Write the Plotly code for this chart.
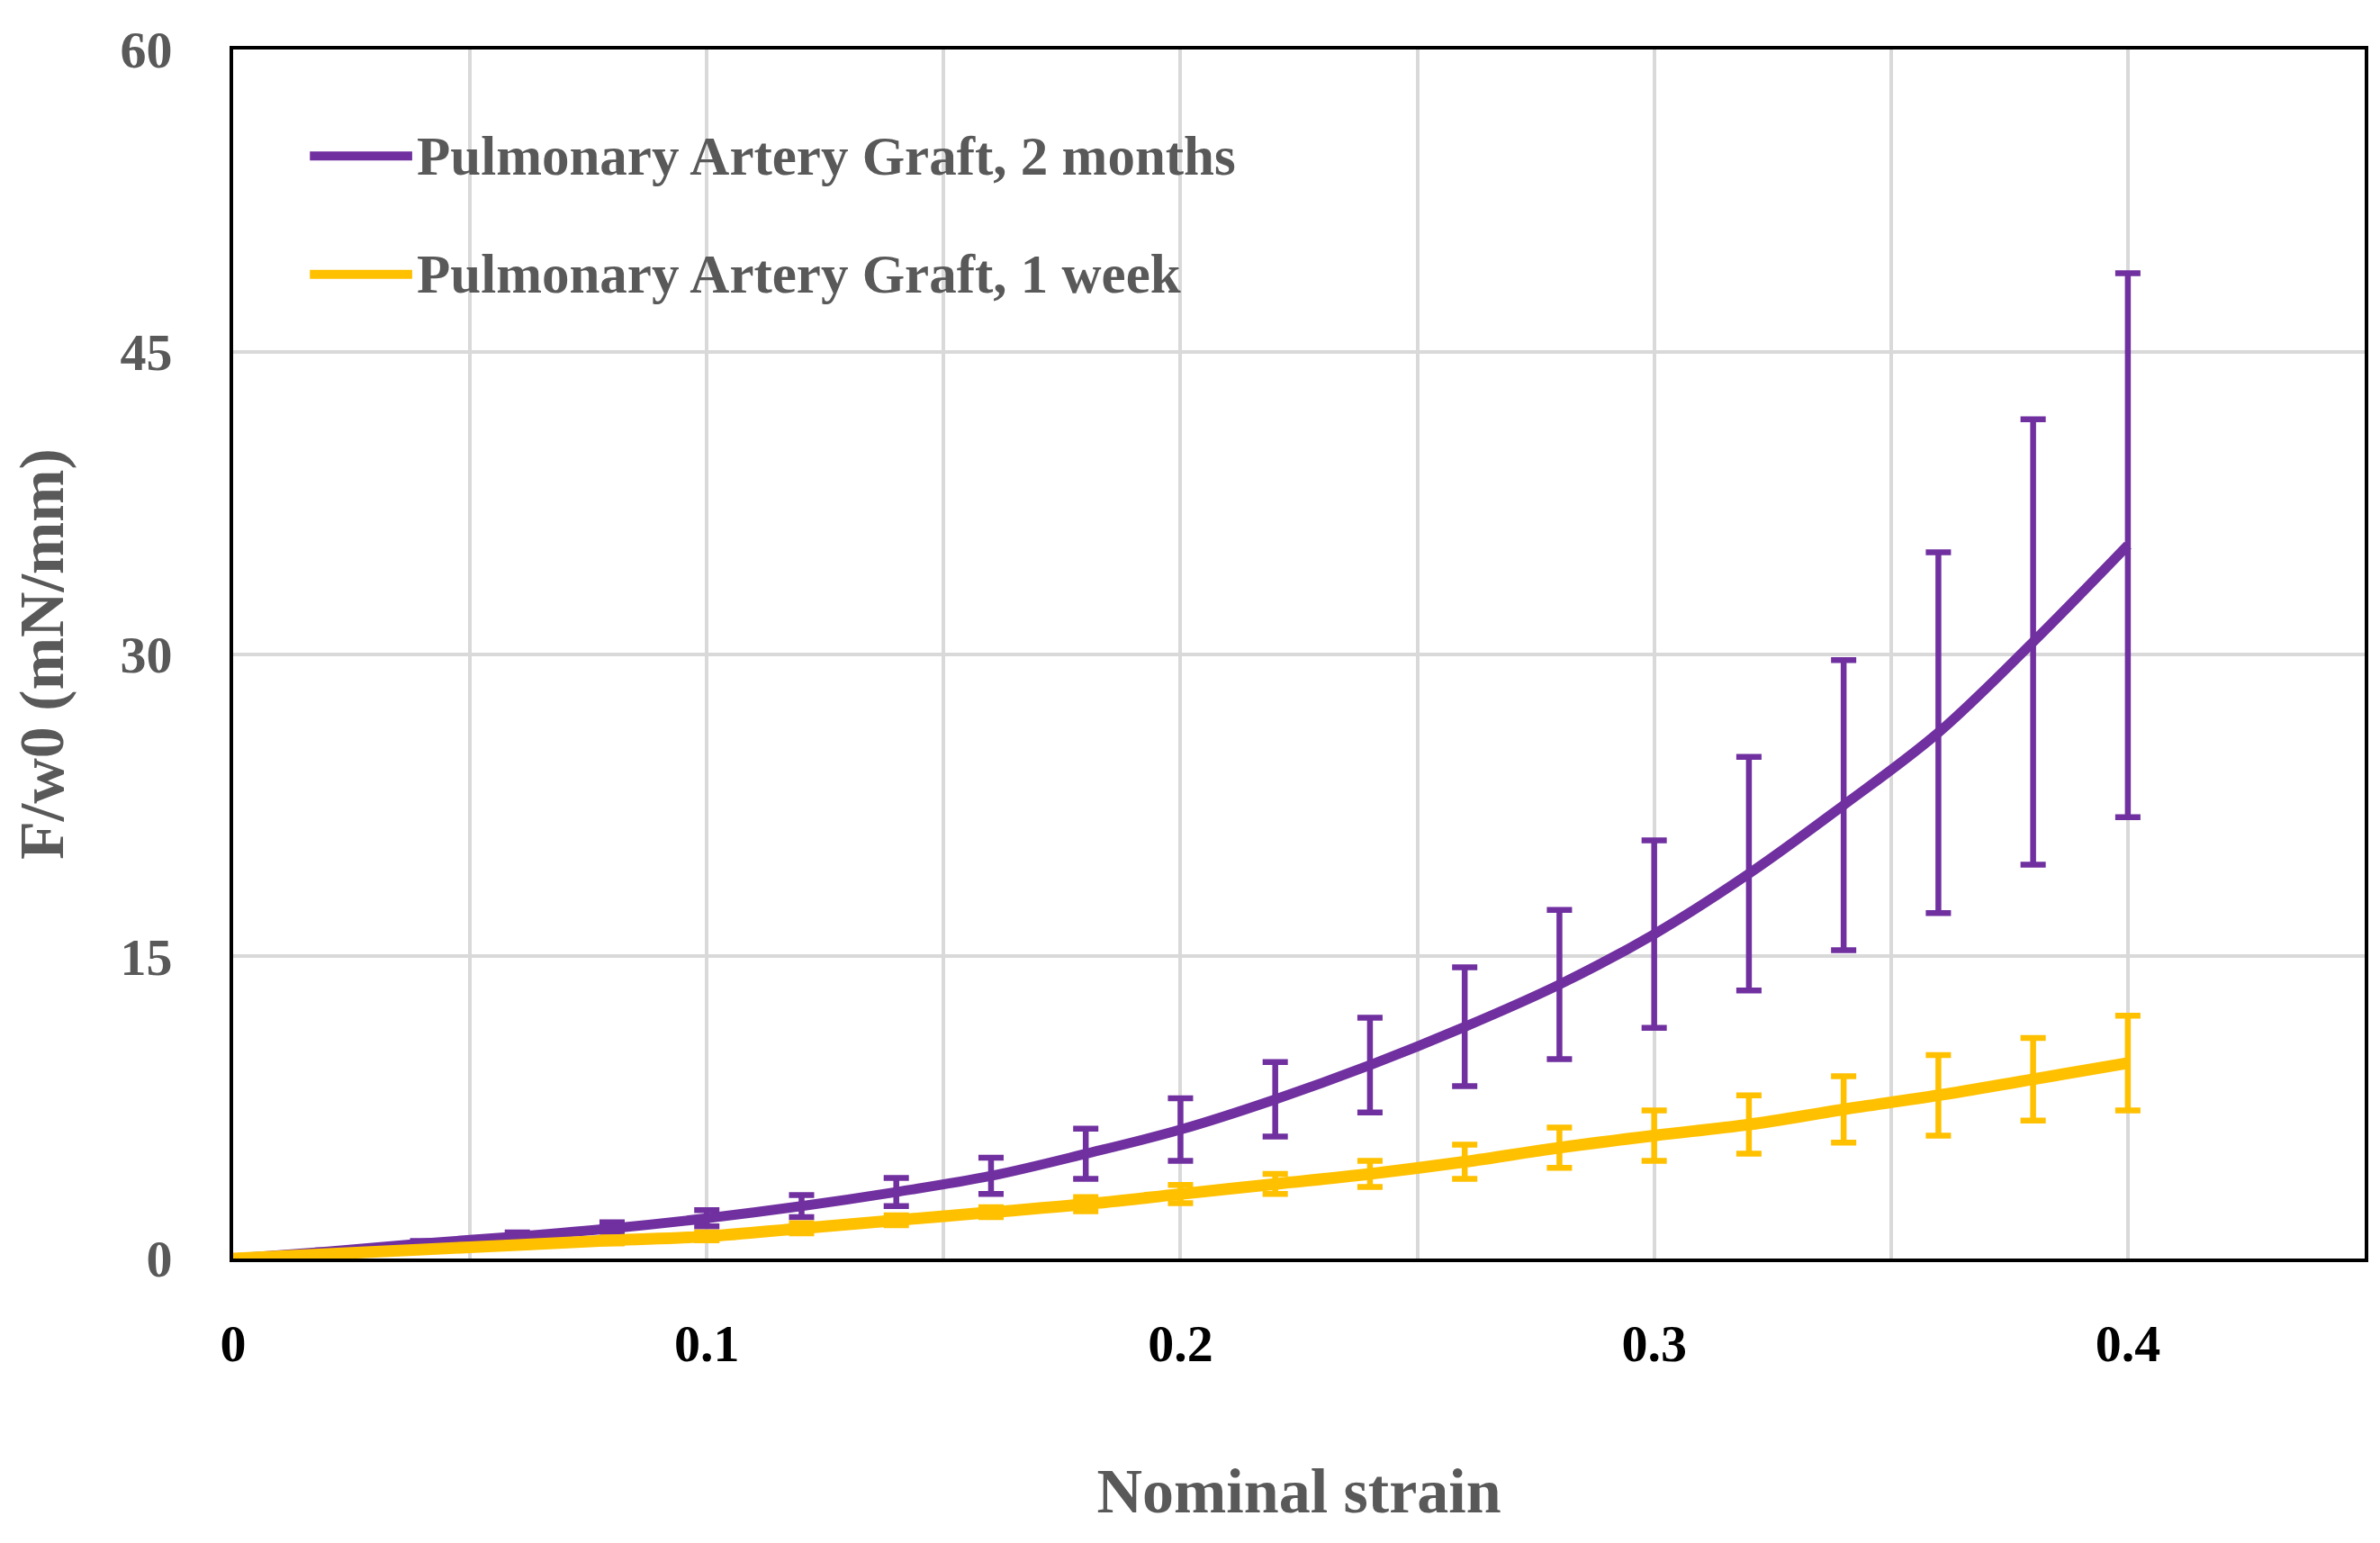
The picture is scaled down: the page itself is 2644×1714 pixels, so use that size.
import plotly.graph_objects as go

# ---- data ----
strain = [0.00, 0.02, 0.04, 0.06, 0.08, 0.10, 0.12, 0.14, 0.16, 0.18, 0.20,
          0.22, 0.24, 0.26, 0.28, 0.30, 0.32, 0.34, 0.36, 0.38, 0.40]

months2_mean = [0.0, 0.35, 0.75, 1.1, 1.5, 2.0, 2.6, 3.3, 4.1, 5.2, 6.4,
                7.9, 9.6, 11.5, 13.6, 16.1, 19.1, 22.5, 26.1, 30.6, 35.4]
months2_err = [0.0, 0.05, 0.12, 0.2, 0.3, 0.4, 0.55, 0.7, 0.9, 1.25, 1.55,
               1.85, 2.35, 2.95, 3.7, 4.65, 5.8, 7.2, 8.95, 11.05, 13.5]

week1_mean = [0.0, 0.22, 0.45, 0.67, 0.9, 1.1, 1.5, 1.9, 2.3, 2.7, 3.2,
              3.7, 4.2, 4.8, 5.5, 6.1, 6.65, 7.4, 8.1, 8.9, 9.7]
week1_err = [0.0, 0.05, 0.08, 0.1, 0.15, 0.2, 0.25, 0.25, 0.25, 0.35, 0.45,
             0.5, 0.65, 0.85, 1.0, 1.25, 1.45, 1.65, 2.0, 2.05, 2.35]

series_names = ["Pulmonary Artery Graft, 2 months", "Pulmonary Artery Graft, 1 week"]
series_colors = ["#7030A0", "#FFC000"]

x_tickvals = [0, 0.05, 0.1, 0.15, 0.2, 0.25, 0.3, 0.35, 0.4, 0.45]
x_ticktext = ["0", "", "0.1", "", "0.2", "", "0.3", "", "0.4", ""]
y_tickvals = [0, 15, 30, 45, 60]

FONT = "Liberation Serif"
GRAY = "#595959"

fig = go.Figure()
fig.add_trace(go.Scatter(
    x=strain, y=months2_mean, mode="lines", name=series_names[0],
    line=dict(color=series_colors[0], width=11, shape="spline"),
    error_y=dict(type="data", array=months2_err, visible=True,
                 color=series_colors[0], thickness=6.5, width=14),
    showlegend=False))
fig.add_trace(go.Scatter(
    x=strain, y=week1_mean, mode="lines", name=series_names[1],
    line=dict(color=series_colors[1], width=13, shape="spline"),
    error_y=dict(type="data", array=week1_err, visible=True,
                 color=series_colors[1], thickness=6.5, width=14),
    showlegend=False))

# legend box (white, hides gridlines) drawn manually to match the original
shapes = [dict(type="rect", xref="paper", yref="paper", x0=0.002, x1=0.49,
               y0=0.762, y1=0.953, fillcolor="white", line=dict(width=0),
               layer="between")]
annotations = []
leg_y = [0.912, 0.814]
for name, col, yy in zip(series_names, series_colors, leg_y):
    shapes.append(dict(type="line", xref="paper", yref="paper",
                       x0=0.036, x1=0.084, y0=yy, y1=yy,
                       line=dict(color=col, width=10)))
    annotations.append(dict(xref="paper", yref="paper", x=0.0855, y=yy,
                            xanchor="left", yanchor="middle", showarrow=False,
                            text=name,
                            font=dict(family=FONT, size=61, color=GRAY, weight="bold")))

fig.update_layout(
    width=2644, height=1714,
    margin=dict(l=251, r=25, t=47, b=324),
    paper_bgcolor="white", plot_bgcolor="white",
    shapes=shapes, annotations=annotations,
    showlegend=False,
)
fig.update_xaxes(
    range=[0, 0.45], tickvals=x_tickvals, ticktext=x_ticktext,
    showgrid=True, gridcolor="#D9D9D9", gridwidth=4,
    showline=True, linecolor="black", linewidth=4, mirror=True,
    ticks="", ticklabelstandoff=40, zeroline=False,
    tickfont=dict(family=FONT, size=58, color="black", weight="bold"),
    title=dict(text="Nominal strain", standoff=108,
               font=dict(family=FONT, size=70, color=GRAY, weight="bold")),
)
fig.update_yaxes(
    range=[0, 60], tickvals=y_tickvals,
    showgrid=True, gridcolor="#D9D9D9", gridwidth=4,
    showline=True, linecolor="black", linewidth=4, mirror=True,
    ticks="", ticklabelstandoff=52, zeroline=False,
    tickfont=dict(family=FONT, size=58, color=GRAY, weight="bold"),
    title=dict(text="F/w0 (mN/mm)", standoff=42,
               font=dict(family=FONT, size=70, color=GRAY, weight="bold")),
)

fig.write_html("out.html")
